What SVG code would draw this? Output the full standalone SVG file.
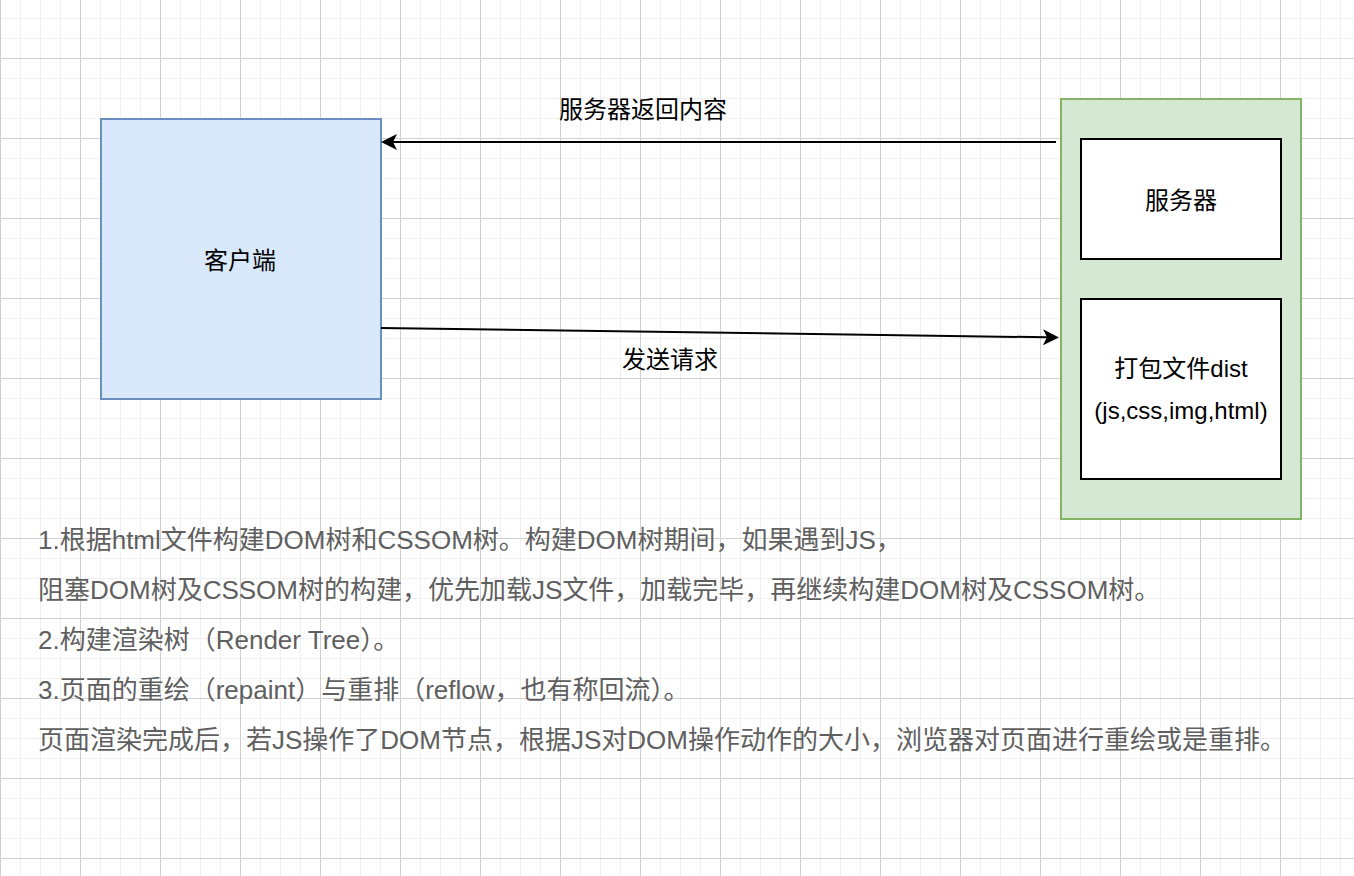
<svg xmlns="http://www.w3.org/2000/svg" width="1354" height="876" viewBox="0 0 1354 876">
  <defs>
    <pattern id="grid" patternUnits="userSpaceOnUse" x="0" y="58" width="80" height="80">
      <rect x="20" y="0" width="1" height="80" fill="#f0f0f0"/>
      <rect x="40" y="0" width="1" height="80" fill="#f0f0f0"/>
      <rect x="60" y="0" width="1" height="80" fill="#f0f0f0"/>
      <rect x="0" y="20" width="80" height="1" fill="#f0f0f0"/>
      <rect x="0" y="40" width="80" height="1" fill="#f0f0f0"/>
      <rect x="0" y="60" width="80" height="1" fill="#f0f0f0"/>
      <rect x="0" y="0" width="1" height="80" fill="#d0d0d0"/>
      <rect x="0" y="0" width="80" height="1" fill="#d0d0d0"/>
    </pattern>
    <marker id="arrow" markerUnits="userSpaceOnUse" viewBox="0 0 16 16" markerWidth="16" markerHeight="16" refX="4" refY="8" orient="auto">
      <path d="M16,8 L0,0 L4,8 L0,16 Z" fill="#000"/>
    </marker>
    <style>
      .lbl { font-family: "Liberation Sans", "Noto Sans CJK SC", sans-serif; font-size: 24px; fill: #000; text-anchor: middle; }
      .note { font-family: "Liberation Sans", "Noto Sans CJK SC", sans-serif; font-size: 26px; fill: #5f5f5f; }
      .edge { fill: none; stroke: #000; stroke-width: 2; marker-end: url(#arrow); }
      .inner { fill: #ffffff; stroke: #000; stroke-width: 2; }
    </style>
  </defs>
  <rect x="0" y="0" width="1354" height="876" fill="#ffffff"/>
  <rect x="0" y="0" width="1354" height="876" fill="url(#grid)"/>

  <g id="client">
    <rect x="101" y="119" width="280" height="280" fill="#dae8fc" stroke="#6c8ebf" stroke-width="2"/>
    <text class="lbl" x="240" y="268.5">客户端</text>
  </g>

  <g id="server-group">
    <rect x="1061" y="99" width="240" height="420" fill="#d5e8d4" stroke="#82b366" stroke-width="2"/>
  </g>

  <g id="server">
    <rect class="inner" x="1081" y="139" width="200" height="120"/>
    <text class="lbl" x="1181" y="208.5">服务器</text>
  </g>

  <g id="dist">
    <rect class="inner" x="1081" y="299" width="200" height="180"/>
    <text class="lbl" x="1181" y="377">打包文件dist</text>
    <text class="lbl" x="1181" y="419">(js,css,img,html)</text>
  </g>

  <g id="connectors">
    <path class="edge" d="M1056,142 L393,142"/>
    <path class="edge" d="M381,328 L1047,337.3"/>
    <text class="lbl" x="643" y="117.5">服务器返回内容</text>
    <text class="lbl" x="670" y="367.5">发送请求</text>
  </g>

  <g id="notes">
    <text class="note" x="38" y="549">1.根据html文件构建DOM树和CSSOM树。构建DOM树期间，如果遇到JS，</text>
    <text class="note" x="38" y="599">阻塞DOM树及CSSOM树的构建，优先加载JS文件，加载完毕，再继续构建DOM树及CSSOM树。</text>
    <text class="note" x="38" y="649">2.构建渲染树（Render Tree）。</text>
    <text class="note" x="38" y="699">3.页面的重绘（repaint）与重排（reflow，也有称回流）。</text>
    <text class="note" x="38" y="749">页面渲染完成后，若JS操作了DOM节点，根据JS对DOM操作动作的大小，浏览器对页面进行重绘或是重排。</text>
  </g>
</svg>
